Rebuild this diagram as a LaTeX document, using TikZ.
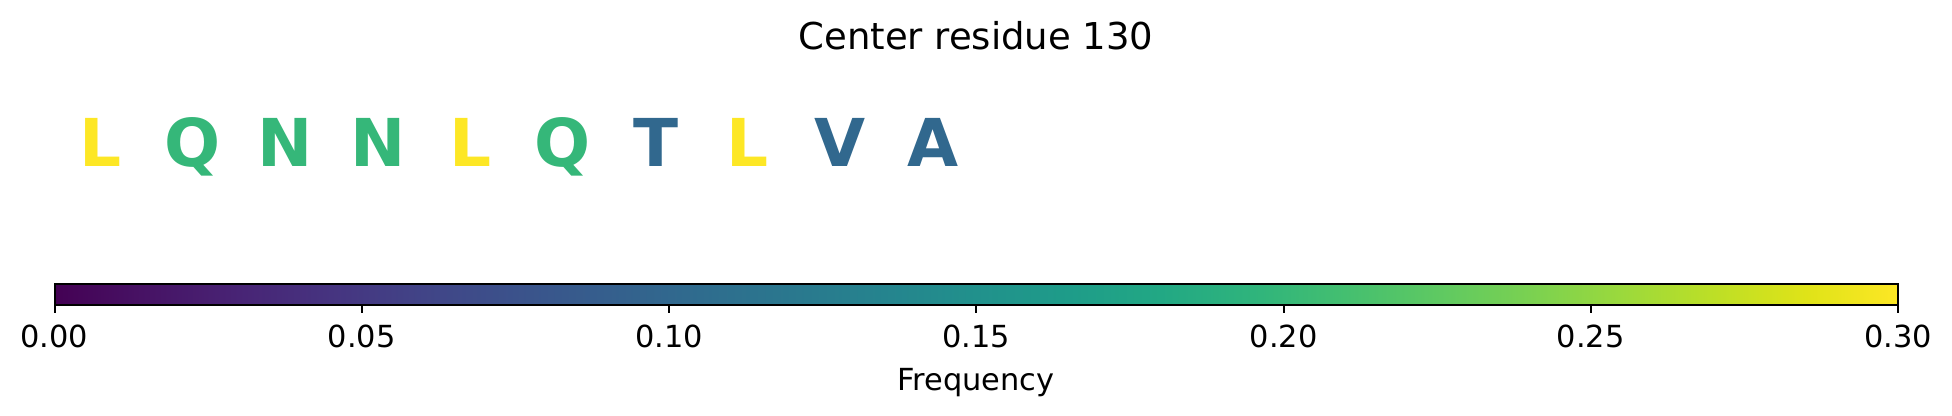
\documentclass[tikz,border=0pt]{standalone}
\usepackage{fontspec}
\setmainfont{DejaVu Sans}
\definecolor{v00}{HTML}{440154}
\definecolor{v05}{HTML}{471365}
\definecolor{v10}{HTML}{482475}
\definecolor{v15}{HTML}{463480}
\definecolor{v20}{HTML}{414487}
\definecolor{v25}{HTML}{3B528B}
\definecolor{v30}{HTML}{355F8D}
\definecolor{v35}{HTML}{2F6C8E}
\definecolor{v40}{HTML}{2A788E}
\definecolor{v45}{HTML}{25848E}
\definecolor{v50}{HTML}{21918C}
\definecolor{v55}{HTML}{1E9C89}
\definecolor{v60}{HTML}{22A884}
\definecolor{v65}{HTML}{2FB47C}
\definecolor{v70}{HTML}{44BF70}
\definecolor{v75}{HTML}{5EC962}
\definecolor{v80}{HTML}{7AD151}
\definecolor{v85}{HTML}{9BD93C}
\definecolor{v90}{HTML}{BDDF26}
\definecolor{v95}{HTML}{DFE318}
\definecolor{v100}{HTML}{FDE725}
\definecolor{resyellow}{HTML}{FDE725}
\definecolor{resgreen}{HTML}{35B779}
\definecolor{resblue}{HTML}{31688E}
\pgfdeclarehorizontalshading{viridisbar}{100bp}{%
color(0bp)=(v00); color(25bp)=(v00); color(27.5bp)=(v05); color(30bp)=(v10);
color(32.5bp)=(v15); color(35bp)=(v20); color(37.5bp)=(v25); color(40bp)=(v30);
color(42.5bp)=(v35); color(45bp)=(v40); color(47.5bp)=(v45); color(50bp)=(v50);
color(52.5bp)=(v55); color(55bp)=(v60); color(57.5bp)=(v65); color(60bp)=(v70);
color(62.5bp)=(v75); color(65bp)=(v80); color(67.5bp)=(v85); color(70bp)=(v90);
color(72.5bp)=(v95); color(75bp)=(v100); color(100bp)=(v100)}
\begin{document}
\begin{tikzpicture}[x=0.5pt,y=-0.5pt,
  residue/.style={anchor=base,inner sep=0pt,font=\fontsize{33}{33}\selectfont\bfseries},
  ticklabel/.style={anchor=base,inner sep=0pt,font=\fontsize{15.2}{16}\selectfont},
  tickmark/.style={line width=1pt,black}]
\useasboundingbox (0,0) rectangle (1952,416);
\fill[white] (0,0) rectangle (1952,416);
% title
\node[anchor=base,inner sep=0pt,font=\fontsize{18.5}{20}\selectfont] (title) at (976,50) {Center residue 130};
% residues
\node[residue,text=resyellow] (r0) at (100.5,167) {L};
\node[residue,text=resgreen]  (r1) at (193,167) {Q};
\node[residue,text=resgreen]  (r2) at (285.5,167) {N};
\node[residue,text=resgreen]  (r3) at (378,167) {N};
\node[residue,text=resyellow] (r4) at (470.5,167) {L};
\node[residue,text=resgreen]  (r5) at (563,167) {Q};
\node[residue,text=resblue]   (r6) at (655.5,167) {T};
\node[residue,text=resyellow] (r7) at (748,167) {L};
\node[residue,text=resblue]   (r8) at (840.5,167) {V};
\node[residue,text=resblue]   (r9) at (933,167) {A};
% colorbar
\shade[shading=viridisbar] (54.5,284.3) rectangle (1898,305);
\draw[line width=1pt] (54.5,284.3) rectangle (1898,305);
\foreach \i/\lab in {0/0.00,1/0.05,2/0.10,3/0.15,4/0.20,5/0.25,6/0.30}{
  \coordinate (t\i) at ({54.5+307.25*\i},305);
  \draw[tickmark] (t\i) -- ++(0,8.3);
  \node[ticklabel] (l\i) at ({54.5+307.25*\i},348) {\lab};
}
\node[ticklabel] (freq) at (976,390) {Frequency};
\end{tikzpicture}
\end{document}
